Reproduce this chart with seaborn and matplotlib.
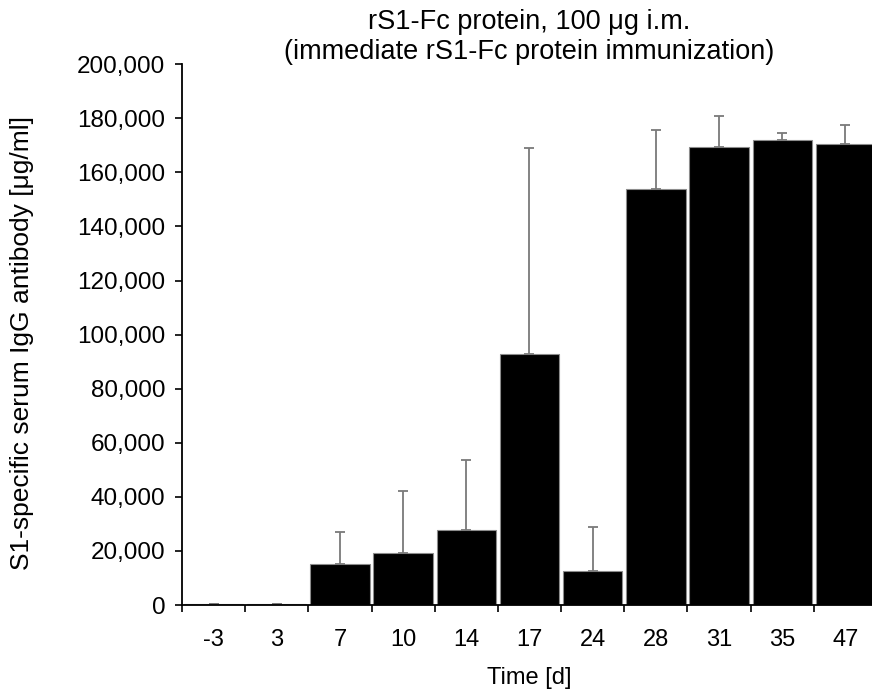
import numpy as np
import pandas as pd
import matplotlib.pyplot as plt
import seaborn as sns
from matplotlib.ticker import FuncFormatter, FixedLocator

sns.set_theme(style="white")
plt.rcParams['font.family'] = ['Liberation Sans', 'DejaVu Sans']
plt.rcParams.update({"text.color": "black", "axes.labelcolor": "black",
                     "xtick.color": "black", "ytick.color": "black"})

days = ["-3", "3", "7", "10", "14", "17", "24", "28", "31", "35", "47"]
mean_igg = [300, 300, 15200, 19400, 27700, 93000, 12500, 154000, 169500, 172000, 170500]
upper_sd = [0, 0, 11800, 22900, 25900, 76000, 16500, 21500, 11500, 2500, 7000]

df = pd.DataFrame({"day": days, "igg": mean_igg})

fig = plt.figure(figsize=(8.72, 6.96), dpi=100)
ax = fig.add_axes([0.2087, 0.1307, 0.797, 0.777])

sns.barplot(data=df, x="day", y="igg", order=days, color="black",
            edgecolor="#8c8c8c", linewidth=0.8, width=0.94,
            saturation=1, errorbar=None, ax=ax)

x = np.arange(len(days))
ax.errorbar(x, mean_igg, yerr=[np.zeros(len(days)), upper_sd], fmt="none",
            ecolor="#7a7a7a", elinewidth=1.3, capsize=3.5, capthick=1.3,
            zorder=1)

ax.set_ylim(0, 200000)
ax.set_xlim(-0.5, len(days) - 0.5)
ax.set_yticks(np.arange(0, 200001, 20000))
ax.yaxis.set_major_formatter(FuncFormatter(lambda v, p: f"{int(v):,}"))

ax.xaxis.set_minor_locator(FixedLocator(np.arange(-0.5, len(days), 1.0)))
ax.tick_params(axis="x", which="major", length=0, pad=17, labelsize=17)
ax.tick_params(axis="x", which="minor", length=5, width=1.2, color="black",
               bottom=True)
ax.tick_params(axis="y", length=5, width=1.2, color="black", left=True,
               labelsize=17.5, pad=7)

for s in ["top", "right"]:
    ax.spines[s].set_visible(False)
for s in ["left", "bottom"]:
    ax.spines[s].set_color("black")
    ax.spines[s].set_linewidth(1.3)

ax.set_xlabel("Time [d]", fontsize=17)
ax.set_ylabel("S1-specific serum IgG antibody [μg/ml]", fontsize=19)
ax.yaxis.set_label_coords(-0.213, 0.485)
ax.xaxis.set_label_coords(0.5, -0.114)
ax.set_title("rS1-Fc protein, 100 μg i.m.\n(immediate rS1-Fc protein immunization)",
             fontsize=19.5, pad=4, linespacing=1.2)

fig.savefig("out.png", dpi=100)
plt.close(fig)
